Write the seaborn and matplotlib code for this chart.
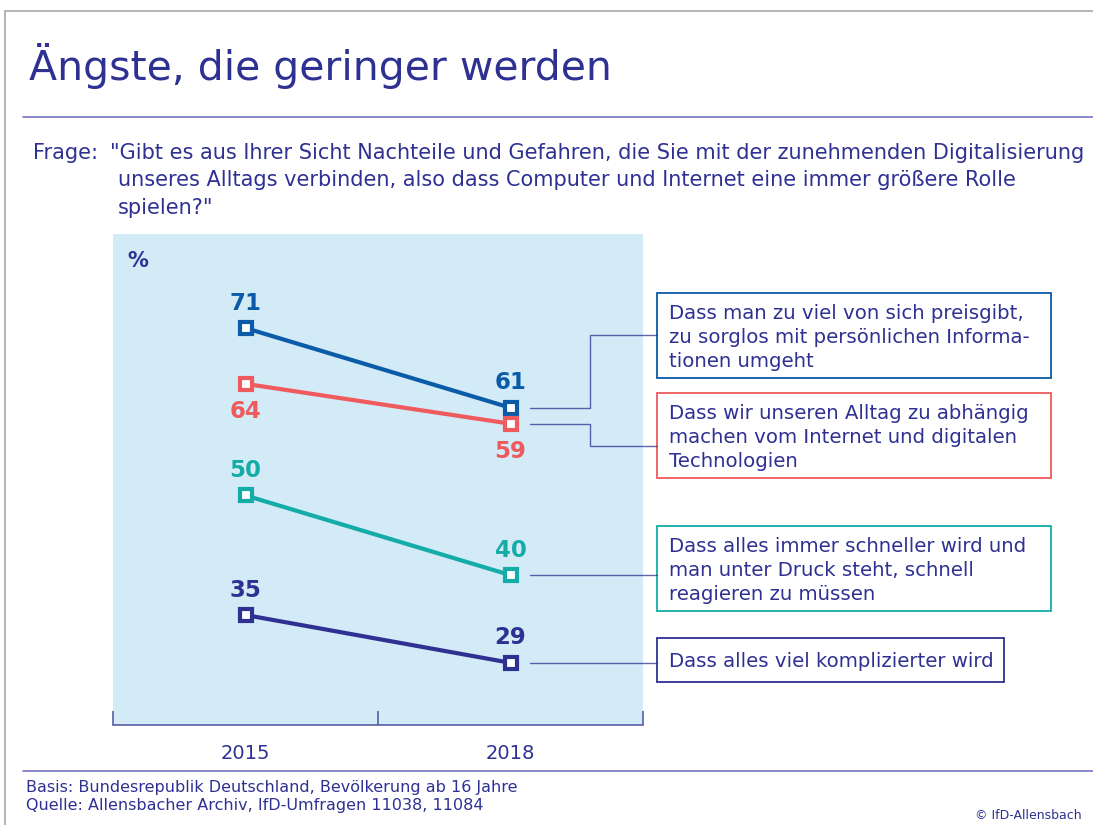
import numpy as np
import pandas as pd
import matplotlib.pyplot as plt
import seaborn as sns
from matplotlib.patches import Rectangle
from matplotlib.lines import Line2D

# data
years = ["2015", "2018"]
statements = [
    "Dass man zu viel von sich preisgibt,\nzu sorglos mit persönlichen Informa-\ntionen umgeht",
    "Dass wir unseren Alltag zu abhängig\nmachen vom Internet und digitalen\nTechnologien",
    "Dass alles immer schneller wird und\nman unter Druck steht, schnell\nreagieren zu müssen",
    "Dass alles viel komplizierter wird",
]
share_2015 = [71, 64, 50, 35]
share_2018 = [61, 59, 40, 29]
colors = ["#0b5ba8", "#ef5a5d", "#14aca7", "#2e3192"]
label_below = [False, True, False, False]  # which series get their numbers under the marker

title = "Ängste, die geringer werden"
question = [
    "\"Gibt es aus Ihrer Sicht Nachteile und Gefahren, die Sie mit der zunehmenden Digitalisierung",
    "unseres Alltags verbinden, also dass Computer und Internet eine immer größere Rolle",
    "spielen?\"",
]
footer = [
    "Basis: Bundesrepublik Deutschland, Bevölkerung ab 16 Jahre",
    "Quelle: Allensbacher Archiv, IfD-Umfragen 11038, 11084",
]

NAVY = "#2e3192"
RULE = "#7275bd"
W, H = 1093, 825

sns.set_style("white")
plt.rcParams["font.family"] = ["DejaVu Sans"]

df = pd.DataFrame({
    "statement": statements * 2,
    "pos": [0] * len(statements) + [1] * len(statements),
    "share": share_2015 + share_2018,
})


def fx(px):
    return px / W


def fy(py):
    return 1 - py / H


fig = plt.figure(figsize=(W / 100, H / 100), dpi=100)

# outer frame (top + left)
fig.add_artist(Line2D([fx(5), 1], [fy(11), fy(11)], color="#a8a8a8", lw=1.2))
fig.add_artist(Line2D([fx(5), fx(5)], [fy(11), 0], color="#a8a8a8", lw=1.2))

# title + rules
fig.text(fx(29), fy(80), title, fontsize=29.5, color=NAVY, va="baseline")
fig.add_artist(Line2D([fx(23), 1], [fy(117), fy(117)], color=RULE, lw=1.2))
fig.add_artist(Line2D([fx(23), 1], [fy(771), fy(771)], color=RULE, lw=1.2))

# question
fig.text(fx(33), fy(159), "Frage:", fontsize=15, color=NAVY, va="baseline")
for i, line in enumerate(question):
    x0 = 110 if i == 0 else 118
    fig.text(fx(x0), fy(159 + 27.5 * i), line, fontsize=15, color=NAVY, va="baseline")

# main panel
ax = fig.add_axes([fx(113), fy(725), fx(643) - fx(113), fy(234) - fy(725)])
ax.set_facecolor("#d3eaf7")
sns.lineplot(data=df, x="pos", y="share", hue="statement", hue_order=statements,
             palette=colors, lw=3, marker="s", ms=8.3, legend=False, ax=ax)
for line in ax.lines:
    line.set_markerfacecolor("white")
    line.set_markeredgecolor(line.get_color())
    line.set_markeredgewidth(3)

ax.set_xlim(-0.5, 1.5)
ax.set_ylim(21.2, 82.8)
ax.set_xticks([0, 1])
ax.set_xticklabels(years)
ax.set_xticks([-0.5, 0.5, 1.5], minor=True)
ax.set_yticks([])
ax.set_xlabel("")
ax.set_ylabel("")
for s in ["top", "left", "right"]:
    ax.spines[s].set_visible(False)
ax.spines["bottom"].set_color("#5a5ca8")
ax.spines["bottom"].set_linewidth(1.2)
ax.tick_params(axis="x", which="major", bottom=False, length=0, pad=14, labelsize=14, labelcolor=NAVY)
ax.tick_params(axis="x", which="minor", bottom=True, direction="in", length=10, width=1.2, color="#5a5ca8")
ax.text(0.047, 0.945, "%", transform=ax.transAxes, fontsize=15, fontweight="bold",
        color=NAVY, ha="center", va="center")

for vals_idx, vals in enumerate([share_2015, share_2018]):
    for v, c, below in zip(vals, colors, label_below):
        ax.annotate(str(v), (vals_idx, v), xytext=(0, -20 if below else 18),
                    textcoords="offset points", ha="center", va="center",
                    fontsize=16.5, fontweight="bold", color=c)

# statement boxes + connectors
boxes = [(657, 293, 1051, 378), (657, 393, 1051, 478), (657, 526, 1051, 611), (657, 638, 1004, 682)]
join_y = [335, 446, None, None]
inv = fig.transFigure.inverted()
for s, c, v, (x0, y0, x1, y1), jy in zip(statements, colors, share_2018, boxes, join_y):
    fig.add_artist(Rectangle((fx(x0), fy(y1)), fx(x1) - fx(x0), fy(y0) - fy(y1),
                             fill=False, ec=c, lw=1.3))
    n = s.count("\n") + 1
    base = y0 + 26 if n > 1 else y0 + 29
    for k, txt in enumerate(s.split("\n")):
        fig.text(fx(x0 + 12), fy(base + 24 * k), txt, fontsize=14.2, color=NAVY, va="baseline")
    px, py = inv.transform(ax.transData.transform((1, v)))
    sx = fx(530)
    if jy is None:
        xs, ys = [sx, fx(x0)], [py, py]
    else:
        xs, ys = [sx, fx(590), fx(590), fx(x0)], [py, py, fy(jy), fy(jy)]
    fig.add_artist(Line2D(xs, ys, color=NAVY, lw=1.0, alpha=0.75))

# footer
for i, line in enumerate(footer):
    fig.text(fx(26), fy(792 + 18 * i), line, fontsize=11.5, color=NAVY, va="baseline")
fig.text(fx(1082), fy(819), "© IfD-Allensbach", fontsize=9, color=NAVY, ha="right", va="baseline")

fig.savefig("out.png", dpi=100, facecolor="white")
